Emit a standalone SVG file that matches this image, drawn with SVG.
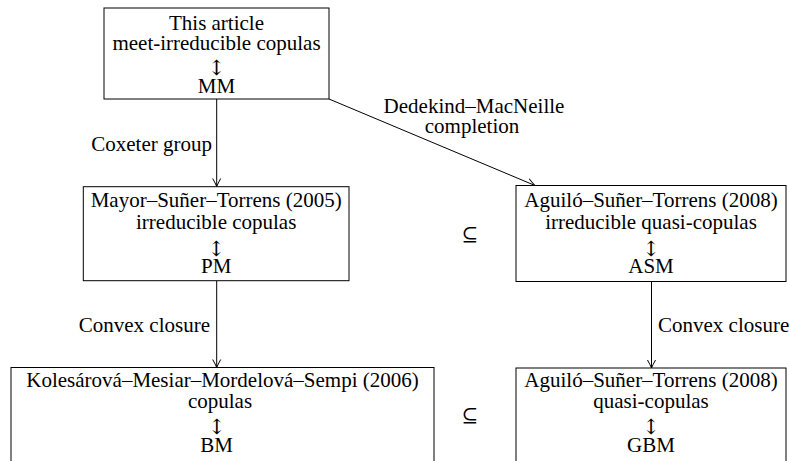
<svg xmlns="http://www.w3.org/2000/svg" width="789" height="461" viewBox="0 0 789 461">
<style>
  .box { fill: #fff; stroke: #000; stroke-width: 1; }
  text { font-family: "Liberation Serif", "Times New Roman", serif; font-size: 21px; fill: #000; }
  .c { text-anchor: middle; }
  .e { text-anchor: end; }
  .arr { font-family: "DejaVu Serif", "Liberation Serif", serif; font-size: 21px; text-anchor: middle; }
  .sub { font-family: "DejaVu Serif", "Liberation Serif", serif; font-size: 20px; text-anchor: middle; }
  .edge { stroke: #000; stroke-width: 1; fill: none; marker-end: url(#ah); }
</style>
<defs>
  <marker id="ah" markerUnits="userSpaceOnUse" markerWidth="12" markerHeight="12" viewBox="-10 -6 12 12" refX="0" refY="0" orient="auto">
    <path d="M-8,-4 Q-3,-1.2 0,0 Q-3,1.2 -8,4" fill="none" stroke="#000" stroke-width="1"/>
  </marker>
</defs>

<g id="connectors">
  <line class="edge" x1="216.7" y1="99" x2="216.7" y2="186.5"/>
  <line class="edge" x1="329" y1="99" x2="535" y2="185.5"/>
  <line class="edge" x1="216.7" y1="281" x2="216.7" y2="367.5"/>
  <line class="edge" x1="651.5" y1="282" x2="651.5" y2="368"/>
  <text x="212" y="151" class="e">Coxeter group</text>
  <text x="474" y="113" class="c">Dedekind–MacNeille</text>
  <text x="472" y="133" class="c">completion</text>
  <text x="210" y="332" class="e">Convex closure</text>
  <text x="658" y="332">Convex closure</text>
</g>

<g id="node-mm">
  <rect class="box" x="104" y="8" width="225" height="91"/>
  <text x="216.5" y="30" class="c">This article</text>
  <text x="216.5" y="49.5" class="c">meet-irreducible copulas</text>
  <text x="216.5" y="74.5" class="arr">↕</text>
  <text x="216.5" y="93" class="c">MM</text>
</g>

<g id="node-pm">
  <rect class="box" x="83.3" y="186.7" width="265.7" height="94"/>
  <text x="216.2" y="206.5" class="c">Mayor–Suñer–Torrens (2005)</text>
  <text x="216.2" y="229" class="c">irreducible copulas</text>
  <text x="216.2" y="255.5" class="arr">↕</text>
  <text x="216.2" y="273" class="c">PM</text>
</g>

<g id="node-asm">
  <rect class="box" x="516" y="185.5" width="270" height="96"/>
  <text x="651" y="206.5" class="c">Aguiló–Suñer–Torrens (2008)</text>
  <text x="651" y="229" class="c">irreducible quasi-copulas</text>
  <text x="651" y="255.5" class="arr">↕</text>
  <text x="651" y="273" class="c">ASM</text>
</g>

<g id="node-bm">
  <rect class="box" x="11" y="367.5" width="423" height="100"/>
  <text x="222.5" y="387" class="c">Kolesárová–Mesiar–Mordelová–Sempi (2006)</text>
  <text x="220" y="408" class="c">copulas</text>
  <text x="216.7" y="433.5" class="arr">↕</text>
  <text x="216.7" y="452" class="c">BM</text>
</g>

<g id="node-gbm">
  <rect class="box" x="516" y="368" width="270" height="100"/>
  <text x="651" y="387" class="c">Aguiló–Suñer–Torrens (2008)</text>
  <text x="651" y="408" class="c">quasi-copulas</text>
  <text x="651" y="433.5" class="arr">↕</text>
  <text x="651" y="452" class="c">GBM</text>
</g>

<g id="subset-marks">
  <text x="470" y="241" class="sub">⊆</text>
  <text x="470" y="422" class="sub">⊆</text>
</g>
</svg>
